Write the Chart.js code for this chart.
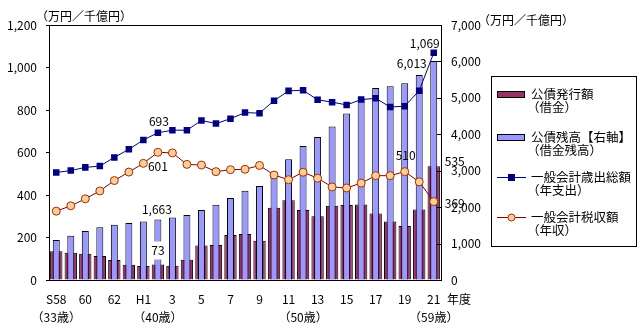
<!DOCTYPE html>
<html>
<head>
<meta charset="utf-8">
<script src="https://cdn.jsdelivr.net/npm/chart.js@4"></script>
<style>
  body { margin: 0; background: #fff; }
  #wrap { width: 641px; height: 332px; }
</style>
</head>
<body>
<div id="wrap"><canvas id="debt" width="641" height="332"></canvas></div>
<script>
  // fiscal years S58 (1983) .. H21 (2009)
  const years = ['S58','59','60','61','62','63','H1','2','3','4','5','6','7','8','9','10','11','12','13','14','15','16','17','18','19','20','21'];
  const ageIdx = [0, 7, 17, 26];
  const ageText = ['（33歳）', '（40歳）', '（50歳）', '（59歳）'];

  // 公債発行額 (left axis)
  const bondIssue = [135,128,123,113,94,72,66,73,67,95,162,165,212,217,185,340,375,330,300,350,353,355,313,275,254,332,535];
  // 公債残高 (right axis)
  const bondBalance = [1097,1217,1344,1451,1518,1568,1609,1663,1716,1784,1925,2066,2252,2447,2580,2952,3317,3676,3924,4211,4570,4990,5269,5317,5400,5630,6013];
  // 一般会計歳出総額
  const spending = [506,515,530,536,577,615,659,693,705,705,751,736,759,788,785,844,890,893,848,837,824,849,855,814,818,891,1069];
  // 一般会計税収額
  const taxRevenue = [324,349,382,419,468,508,549,601,598,544,541,510,519,521,539,494,472,507,479,438,433,456,491,491,510,462,369];

  const FONT = "'Noto Sans CJK JP', 'Noto Sans', sans-serif";
  Chart.defaults.font.family = FONT;
  Chart.defaults.font.size = 12;
  Chart.defaults.color = '#000';

  const legendItems = [
    { kind: 'bar', ds: 0, text: ['公債発行額', '（借金）'], y: 94 },
    { kind: 'bar', ds: 1, text: ['公債残高【右軸】', '（借金残高）'], y: 137 },
    { kind: 'line', ds: 2, text: ['一般会計歳出総額', '（年支出）'], y: 177 },
    { kind: 'line', ds: 3, text: ['一般会計税収額', '（年収）'], y: 217 }
  ];

  const extras = {
    id: 'extras',
    afterDatasetsDraw(chart) {
      const ctx = chart.ctx, a = chart.chartArea;
      ctx.save();
      ctx.strokeStyle = '#000';
      ctx.lineWidth = 1;
      ctx.strokeRect(a.left + 0.5, a.top + 0.5, a.right - a.left, a.bottom - a.top);

      // inward ticks on the right axis
      const y1 = chart.scales.y1;
      ctx.beginPath();
      y1.ticks.forEach(t => {
        const py = Math.round(y1.getPixelForValue(t.value)) + 0.5;
        ctx.moveTo(a.right - 4, py);
        ctx.lineTo(a.right + 1, py);
      });
      ctx.stroke();

      ctx.font = '12px ' + FONT;
      ctx.fillStyle = '#000';
      ctx.textBaseline = 'middle';

      // value notes
      const notes = [
        [2, 7, 1, -11, 'center'],
        [3, 7, 0, 14, 'center'],
        [1, 7, -1, -10, 'center'],
        [0, 7, 0, -14, 'center', true],
        [3, 24, 1, -16, 'center'],
        [2, 26, 6, -9, 'right'],
        [1, 26, -7, 2, 'right'],
        [0, 26, 11, -5, 'left'],
        [3, 26, 11, 2, 'left']
      ];
      notes.forEach(n => {
        const el = chart.getDatasetMeta(n[0]).data[n[1]];
        const txt = chart.data.datasets[n[0]].data[n[1]].toLocaleString('en-US');
        const x = el.x + n[2], y = el.y + n[3];
        ctx.textAlign = n[4];
        if (n[5]) {
          const w = ctx.measureText(txt).width;
          ctx.fillStyle = '#fff';
          ctx.fillRect(x - w / 2 - 2, y - 9, w + 4, 18);
          ctx.fillStyle = '#000';
        }
        ctx.fillText(txt, x, y);
      });

      // axis titles
      ctx.textAlign = 'left';
      ctx.fillText('（万円／千億円）', 36, 16);
      ctx.fillText('（万円／千億円）', 478, 20);
      ctx.fillText('年度', 447, 299);

      // legend
      ctx.strokeRect(491.5, 76.5, 145, 170);
      ctx.font = '12.5px ' + FONT;
      legendItems.forEach(it => {
        const ds = chart.data.datasets[it.ds];
        if (it.kind === 'bar') {
          ctx.fillStyle = ds.backgroundColor;
          ctx.fillRect(497, it.y - 3, 28, 7);
          ctx.strokeStyle = '#000';
          ctx.strokeRect(497.5, it.y - 2.5, 27, 6);
        } else {
          ctx.strokeStyle = ds.borderColor;
          ctx.beginPath();
          ctx.moveTo(497, it.y + 0.5);
          ctx.lineTo(526, it.y + 0.5);
          ctx.stroke();
          ctx.fillStyle = ds.pointBackgroundColor;
          if (ds.pointStyle === 'rect') {
            ctx.fillRect(508, it.y - 3, 7, 7);
          } else {
            ctx.strokeStyle = ds.pointBorderColor;
            ctx.beginPath();
            ctx.arc(511.5, it.y + 0.5, 3.5, 0, Math.PI * 2);
            ctx.fill();
            ctx.stroke();
          }
        }
        ctx.fillStyle = '#000';
        ctx.textAlign = 'left';
        ctx.fillText(it.text[0], 531, it.y);
        ctx.fillText(it.text[1], 527, it.y + 13.5);
      });
      ctx.restore();
    }
  };

  new Chart(document.getElementById('debt'), {
    type: 'bar',
    data: {
      labels: years,
      datasets: [
        {
          label: '公債発行額',
          data: bondIssue,
          yAxisID: 'y',
          backgroundColor: '#993366',
          borderColor: '#000',
          borderWidth: 1,
          grouped: false,
          categoryPercentage: 1,
          barPercentage: 0.85,
          order: 3
        },
        {
          label: '公債残高【右軸】',
          data: bondBalance,
          yAxisID: 'y1',
          backgroundColor: '#9999FF',
          borderColor: '#000',
          borderWidth: 1,
          grouped: false,
          categoryPercentage: 1,
          barPercentage: 0.48,
          order: 2
        },
        {
          type: 'line',
          label: '一般会計歳出総額',
          data: spending,
          yAxisID: 'y',
          borderColor: '#000080',
          borderWidth: 1,
          pointStyle: 'rect',
          pointRadius: 4.6,
          pointBackgroundColor: '#000080',
          pointBorderColor: '#000080',
          pointBorderWidth: 0,
          tension: 0,
          order: 1
        },
        {
          type: 'line',
          label: '一般会計税収額',
          data: taxRevenue,
          yAxisID: 'y',
          borderColor: '#800000',
          borderWidth: 1,
          pointStyle: 'circle',
          pointRadius: 4,
          pointBackgroundColor: '#FFCC99',
          pointBorderColor: '#993300',
          pointBorderWidth: 1,
          tension: 0,
          order: 1
        }
      ]
    },
    options: {
      responsive: false,
      animation: false,
      events: [],
      layout: { padding: { top: 25, left: 0, right: 0, bottom: 0 } },
      plugins: { legend: { display: false }, tooltip: { enabled: false } },
      scales: {
        x: {
          offset: true,
          afterFit(s) { s.height = 52; },
          grid: { display: false, drawTicks: false },
          border: { display: true, color: '#000' },
          ticks: {
            autoSkip: false,
            maxRotation: 0,
            minRotation: 0,
            padding: 10,
            font: { size: 12, lineHeight: 1.5 },
            callback(value, index) {
              const top = index % 2 === 0 ? years[index] : '';
              const k = ageIdx.indexOf(index);
              return k >= 0 ? [top, ageText[k]] : top;
            }
          }
        },
        y: {
          position: 'left',
          min: 0,
          max: 1200,
          afterFit(s) { s.width = 49; },
          grid: { drawOnChartArea: false, drawTicks: true, tickLength: 3, color: '#000' },
          border: { display: true, color: '#000' },
          ticks: {
            stepSize: 200,
            padding: 9,
            callback: v => v.toLocaleString('en-US')
          }
        },
        y1: {
          position: 'right',
          min: 0,
          max: 7000,
          afterFit(s) { s.width = 200; },
          grid: { drawOnChartArea: false, drawTicks: false },
          border: { display: true, color: '#000' },
          ticks: {
            stepSize: 1000,
            padding: 10,
            callback: v => v.toLocaleString('en-US')
          }
        }
      }
    },
    plugins: [extras]
  });
</script>
</body>
</html>
